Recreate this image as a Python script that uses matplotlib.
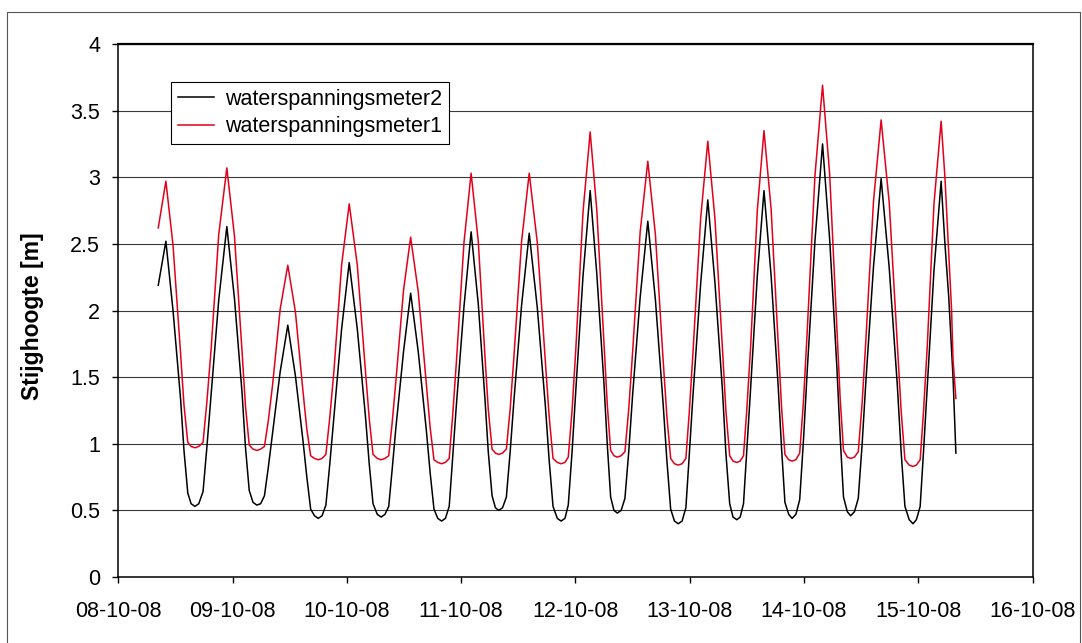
import matplotlib
matplotlib.use("Agg")
import matplotlib.pyplot as plt
import matplotlib.dates as mdates
import pandas as pd
from matplotlib.patches import Rectangle

plt.rcParams["font.family"] = ["Liberation Sans", "DejaVu Sans"]

START = pd.Timestamp("2008-10-08 00:00")

# uren sinds 08-10-08 00:00, gedeelde tijdas voor beide meters
# (per regel een halve getijperiode, eindigend op hoog- of laagwater)
hours = [
    8.4, 10.0,
    11.5, 13.1, 13.8, 14.6, 15.3, 16.1,
    16.9, 17.8, 18.6, 19.5, 21.1, 22.8,
    24.4, 26.0, 26.7, 27.5, 28.3, 29.1,
    29.9, 30.7, 31.5, 32.4, 34.0, 35.6,
    37.2, 38.8, 39.6, 40.4, 41.2, 42.0,
    42.8, 43.6, 44.4, 45.3, 46.9, 48.5,
    50.2, 51.9, 52.7, 53.5, 54.4, 55.2,
    56.0, 56.8, 57.5, 58.3, 59.9, 61.4,
    63.0, 64.7, 65.5, 66.3, 67.1, 67.9,
    68.7, 69.5, 70.2, 71.0, 72.6, 74.1,
    75.6, 77.0, 77.7, 78.5, 79.2, 79.9,
    80.7, 81.5, 82.3, 83.1, 84.7, 86.3,
    88.0, 89.7, 90.5, 91.3, 92.2, 93.0,
    93.8, 94.5, 95.3, 96.1, 97.6, 99.1,
    100.5, 102.0, 102.7, 103.4, 104.1, 104.8,
    105.6, 106.4, 107.2, 108.0, 109.6, 111.2,
    112.8, 114.4, 115.2, 116.0, 116.8, 117.6,
    118.4, 119.2, 119.9, 120.7, 122.3, 123.8,
    125.3, 126.9, 127.6, 128.4, 129.1, 129.9,
    130.6, 131.3, 132.0, 132.8, 134.2, 135.6,
    137.1, 138.6, 139.3, 140.0, 140.8, 141.5,
    142.3, 143.1, 143.9, 144.7, 146.3, 147.9,
    149.4, 150.9, 151.6, 152.3, 153.1, 153.8,
    154.6, 155.4, 156.2, 157.0, 158.6, 160.2,
    161.9, 163.6, 164.4, 165.2, 166.1, 166.9,
    167.6, 168.4, 169.1, 169.9, 171.3, 172.8,
]

# waterspanningsmeter1 (rood), stijghoogte in m
wsm1 = [
    2.62, 2.97,
    2.49, 1.67, 1.29, 1.01, 0.98, 0.97,
    0.98, 1.01, 1.31, 1.71, 2.57, 3.07,
    2.56, 1.69, 1.29, 0.99, 0.96, 0.95,
    0.96, 0.98, 1.17, 1.44, 2.01, 2.34,
    1.99, 1.39, 1.11, 0.91, 0.89, 0.88,
    0.89, 0.92, 1.19, 1.55, 2.34, 2.80,
    2.34, 1.55, 1.19, 0.92, 0.89, 0.88,
    0.89, 0.91, 1.15, 1.47, 2.15, 2.55,
    2.14, 1.45, 1.12, 0.88, 0.86, 0.85,
    0.86, 0.89, 1.20, 1.61, 2.51, 3.03,
    2.52, 1.66, 1.26, 0.96, 0.93, 0.92,
    0.93, 0.96, 1.26, 1.66, 2.52, 3.03,
    2.51, 1.61, 1.20, 0.89, 0.86, 0.85,
    0.86, 0.90, 1.25, 1.72, 2.74, 3.34,
    2.75, 1.75, 1.29, 0.95, 0.91, 0.90,
    0.91, 0.94, 1.26, 1.68, 2.59, 3.12,
    2.57, 1.64, 1.21, 0.89, 0.85, 0.84,
    0.85, 0.89, 1.23, 1.69, 2.69, 3.27,
    2.69, 1.70, 1.25, 0.91, 0.87, 0.86,
    0.87, 0.91, 1.26, 1.73, 2.75, 3.35,
    2.76, 1.74, 1.27, 0.92, 0.88, 0.87,
    0.88, 0.93, 1.32, 1.86, 3.01, 3.69,
    3.02, 1.87, 1.34, 0.95, 0.90, 0.89,
    0.90, 0.94, 1.30, 1.78, 2.82, 3.43,
    2.81, 1.74, 1.25, 0.88, 0.84, 0.83,
    0.84, 0.88, 1.24, 1.74, 2.80, 3.42,
]
wsm1_tail_hours = [173.6, 174.3, 175.0, 175.3, 175.9]
wsm1_tail = [3.00, 2.50, 2.00, 1.63, 1.34]

# waterspanningsmeter2 (zwart), stijghoogte in m
wsm2 = [
    2.19, 2.52,
    2.00, 1.33, 0.95, 0.63, 0.55, 0.53,
    0.55, 0.64, 0.97, 1.37, 2.08, 2.63,
    2.09, 1.38, 0.98, 0.65, 0.56, 0.54,
    0.55, 0.61, 0.82, 1.08, 1.54, 1.89,
    1.51, 1.02, 0.75, 0.51, 0.46, 0.44,
    0.46, 0.54, 0.84, 1.21, 1.86, 2.36,
    1.86, 1.21, 0.85, 0.55, 0.47, 0.45,
    0.47, 0.53, 0.80, 1.12, 1.69, 2.13,
    1.69, 1.10, 0.78, 0.51, 0.44, 0.42,
    0.44, 0.53, 0.88, 1.29, 2.03, 2.59,
    2.05, 1.34, 0.94, 0.61, 0.52, 0.50,
    0.52, 0.60, 0.94, 1.33, 2.04, 2.58,
    2.02, 1.28, 0.87, 0.53, 0.44, 0.42,
    0.44, 0.54, 0.94, 1.41, 2.26, 2.90,
    2.27, 1.45, 0.99, 0.60, 0.50, 0.48,
    0.50, 0.59, 0.94, 1.36, 2.10, 2.67,
    2.08, 1.31, 0.88, 0.51, 0.42, 0.40,
    0.42, 0.52, 0.91, 1.37, 2.20, 2.83,
    2.21, 1.39, 0.93, 0.55, 0.45, 0.43,
    0.45, 0.55, 0.95, 1.42, 2.26, 2.90,
    2.26, 1.42, 0.96, 0.56, 0.47, 0.44,
    0.47, 0.58, 1.03, 1.56, 2.52, 3.25,
    2.53, 1.58, 1.05, 0.60, 0.49, 0.46,
    0.49, 0.59, 0.99, 1.47, 2.33, 2.99,
    2.32, 1.44, 0.94, 0.53, 0.43, 0.40,
    0.43, 0.53, 0.94, 1.43, 2.30, 2.97,
]
wsm2_tail_hours = [173.6, 174.4, 175.3, 175.9]
wsm2_tail = [2.50, 2.10, 1.50, 0.93]

y_ticks = [0, 0.5, 1, 1.5, 2, 2.5, 3, 3.5, 4]

df1 = pd.DataFrame({"uur": hours + wsm1_tail_hours, "h": wsm1 + wsm1_tail})
df2 = pd.DataFrame({"uur": hours + wsm2_tail_hours, "h": wsm2 + wsm2_tail})
df1["tijd"] = START + pd.to_timedelta(df1["uur"], unit="h")
df2["tijd"] = START + pd.to_timedelta(df2["uur"], unit="h")

fig = plt.figure(figsize=(10.82, 6.43), dpi=100)
ax = fig.add_axes([0.1093, 0.1026, 0.8450, 0.8290])

ax.plot(df2["tijd"], df2["h"], color="black", lw=1.1, label="waterspanningsmeter2")
ax.plot(df1["tijd"], df1["h"], color="#e3001b", lw=1.1, label="waterspanningsmeter1")

ax.set_xlim(START, START + pd.Timedelta(days=8))
ax.set_ylim(0, 4)
ax.set_yticks(y_ticks)
ax.set_yticklabels([f"{v:g}" for v in y_ticks])
ax.xaxis.set_major_locator(mdates.DayLocator())
ax.xaxis.set_major_formatter(mdates.DateFormatter("%d-%m-%y"))

ax.grid(axis="y", color="#3a3a3a", lw=0.8)
ax.set_axisbelow(True)
for side in ["left", "bottom", "top", "right"]:
    ax.spines[side].set_color("black")
    ax.spines[side].set_linewidth(1.1)
ax.spines["top"].set_linewidth(1.6)

ax.tick_params(axis="both", direction="out", length=4, width=1, labelsize=15.5)
ax.tick_params(axis="x", pad=13)
ax.tick_params(axis="y", pad=9)

ax.set_ylabel("Stijghoogte [m]", fontsize=16.5, fontweight="bold")
ax.yaxis.set_label_coords(-0.081, 0.49)

leg = ax.legend(loc="upper left", bbox_to_anchor=(0.058, 0.928), fontsize=15.5,
                frameon=True, fancybox=False, borderaxespad=0, handlelength=1.7,
                handletextpad=0.5, labelspacing=0.3, borderpad=0.3)
leg.get_frame().set_edgecolor("black")
leg.get_frame().set_linewidth(0.8)
leg.get_frame().set_alpha(1)

# rand om het hele grafiekgebied
fig.patches.append(Rectangle((7 / 1082, -0.01), 1073 / 1082, 1 - 12 / 643 + 0.01,
                             transform=fig.transFigure, fill=False,
                             edgecolor="#555555", lw=0.8))

fig.savefig("out.png", dpi=100)
